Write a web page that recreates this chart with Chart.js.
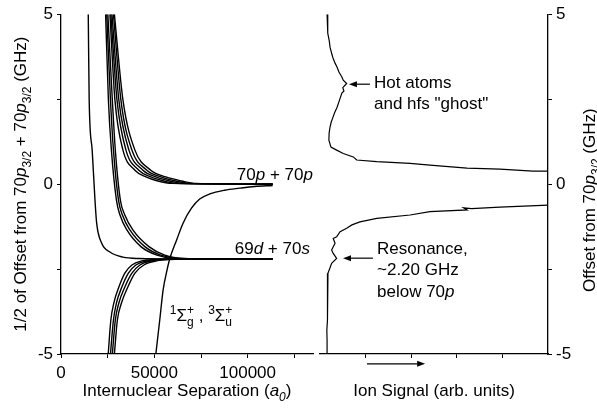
<!DOCTYPE html>
<html>
<head>
<meta charset="utf-8">
<script src="https://cdn.jsdelivr.net/npm/chart.js@4"></script>
<style>
  html, body { margin: 0; padding: 0; background: #fff; }
  #wrap { position: relative; width: 597px; height: 412px; overflow: hidden; }
  #pecChart { position: absolute; left: 0; top: 0; }
  #ionChart { position: absolute; left: 316px; top: 0; }
</style>
</head>
<body>
<div id="wrap">
  <canvas id="pecChart" width="316" height="412"></canvas>
  <canvas id="ionChart" width="281" height="412"></canvas>
</div>
<script>
const FONT = "'Liberation Sans', Arial, Helvetica, sans-serif";
const SIZE = 17;

// ---- left panel: pair potentials, x = separation (a0), y = offset (GHz)
const sepMax = 135000;
const sepTicks = [0, 25000, 50000, 75000, 100000, 125000];
const sepLabels = ['0', '', '50000', '', '100000', ''];
const offsetTicks = [-5, -2.5, 0, 2.5, 5];
const offsetLabels = ['-5', '', '0', '', '5'];

// single repulsive curve into 69d + 70s
const curveA = [
  [14600, 5.0], [15100, 2.47], [16700, 1.0], [18200, -0.47], [19100, -1.15],
  [21800, -1.74], [26200, -2.0], [33200, -2.15], [42300, -2.19], [58300, -2.2], [113400, -2.2]
];

// bundle converging on 70p + 70p from above
const bLevels = [5, 2.47, 1.0, 0.41, 0.21, 0.09, 0.02, 0];
const bSeps = [
  [26200, 28900, 33200, 39600, 45500, 51900, 59400, 113400],
  [26700, 30000, 34800, 41700, 48100, 55100, 62600, 113400],
  [27300, 31000, 36400, 43900, 50800, 58300, 65800, 113400],
  [28100, 32100, 38000, 46000, 53500, 61500, 69000, 113400],
  [28600, 33200, 39600, 48100, 56200, 64700, 72200, 113400]
];

// bundle coming down through 0 onto 69d + 70s
const cLevels = [5, 2.47, 1.0, -0.47, -0.91, -1.35, -1.84, -2.09, -2.19, -2.2, -2.2];
const cSeps = [
  [23900, 25400, 27000, 29700, 31600, 35300, 42800, 51400, 61000, 74300, 113400],
  [24500, 26500, 28100, 30800, 32900, 36900, 44900, 53500, 63600, 76000, 113400],
  [25100, 27500, 29100, 31800, 34200, 38500, 47100, 55600, 66300, 78000, 113400]
];

// bundle rising onto 69d + 70s from below
const dLevels = [-5, -4.0, -3.5, -3.03, -2.62, -2.38, -2.26, -2.22, -2.2, -2.2];
const dSeps = [
  [25300, 26700, 28300, 31000, 34200, 38000, 43300, 50300, 66000, 113400],
  [26500, 28100, 29700, 32600, 36100, 40100, 46000, 52900, 68000, 113400],
  [27500, 29100, 31000, 34200, 38000, 42300, 48700, 55600, 70000, 113400],
  [28600, 30200, 32400, 35800, 39600, 44400, 51300, 58300, 72000, 113400]
];

// attractive 1Σg+, 3Σu+ curve
const curveE = [
  [50800, -5], [52900, -4.0], [54700, -3.12], [56800, -2.53], [58300, -2.19],
  [61900, -1.65], [65400, -1.15], [69900, -0.71], [74300, -0.44], [79700, -0.29],
  [87700, -0.18], [95700, -0.12], [103700, -0.07], [113400, -0.04]
];

// ---- right panel: ion signal (arb.) vs offset (GHz)
const ionTicks = [20, 40, 60, 80];
const ionUpper = [
  [3.1, 5.0], [3.3, 4.75], [3.5, 4.44], [4.1, 4.2], [4.4, 4.03], [5.1, 3.85], [5.7, 3.71],
  [6.6, 3.56], [7.5, 3.44], [8.3, 3.3], [9.6, 3.15], [10.2, 3.06], [11.7, 2.96],
  [10.0, 2.84], [10.5, 2.74], [9.6, 2.68], [8.7, 2.5], [7.5, 2.26], [6.4, 2.1],
  [5.7, 1.97], [4.9, 1.82], [4.4, 1.68], [4.0, 1.5], [3.9, 1.29], [4.8, 1.09],
  [7.3, 1.0], [10.2, 0.9], [14.6, 0.8], [16.1, 0.71], [24.9, 0.66], [39.5, 0.61],
  [48.2, 0.56], [64.5, 0.47], [78.9, 0.44], [93.4, 0.38], [100, 0.38], [130, 0.3]
];
const ionLower = [
  [130, -0.55], [100, -0.62], [78.9, -0.68], [66.5, -0.72], [63.0, -0.70], [64.5, -0.76],
  [48.2, -0.81], [39.5, -0.91], [24.9, -1.01], [17.5, -1.11], [14.0, -1.2], [11.7, -1.3],
  [8.8, -1.4], [7.3, -1.55], [5.8, -1.6], [6.6, -1.74], [5.1, -1.94], [5.8, -2.04],
  [7.3, -2.19], [5.1, -2.33], [4.2, -2.5], [3.5, -2.62], [3.3, -2.97], [3.1, -3.41],
  [3.4, -3.7], [3.3, -4.0], [3.0, -4.3], [3.1, -4.59], [3.1, -5.0]
];

const toPts = (pairs) => pairs.map(([x, y]) => ({ x, y }));
const zipPts = (xs, ys) => xs.map((x, i) => ({ x, y: ys[i] }));

// rich text: parts are {t, i (italic), sub, sup} or {stack: [sup, sub]}
function drawRich(ctx, parts, x, y, size, align) {
  const small = Math.round(size * 0.7);
  const fontFor = (p, sz) => (p.i ? 'italic ' : '') + sz + 'px ' + FONT;
  const widthOf = (p) => {
    if (p.stack) {
      ctx.font = fontFor({}, small);
      return Math.max(ctx.measureText(p.stack[0]).width, ctx.measureText(p.stack[1]).width);
    }
    ctx.font = fontFor(p, p.sub || p.sup ? small : size);
    return ctx.measureText(p.t).width;
  };
  const total = parts.reduce((s, p) => s + widthOf(p), 0);
  let cx = align === 'center' ? x - total / 2 : align === 'right' ? x - total : x;
  ctx.textAlign = 'left';
  ctx.textBaseline = 'alphabetic';
  ctx.fillStyle = '#000';
  for (const p of parts) {
    const w = widthOf(p);
    if (p.stack) {
      ctx.font = fontFor({}, small);
      ctx.fillText(p.stack[0], cx, y - size * 0.42);
      ctx.fillText(p.stack[1], cx, y + size * 0.3);
    } else {
      const dy = p.sub ? size * 0.28 : p.sup ? -size * 0.42 : 0;
      ctx.font = fontFor(p, p.sub || p.sup ? small : size);
      ctx.fillText(p.t, cx, y + dy);
    }
    cx += w;
  }
}

function arrow(ctx, x1, y1, x2, y2) {
  const ang = Math.atan2(y2 - y1, x2 - x1);
  const hl = 8, hw = 3;
  ctx.strokeStyle = '#000';
  ctx.lineWidth = 1.2;
  ctx.beginPath();
  ctx.moveTo(x1, y1);
  ctx.lineTo(x2 - hl * Math.cos(ang), y2 - hl * Math.sin(ang));
  ctx.stroke();
  ctx.beginPath();
  ctx.moveTo(x2, y2);
  ctx.lineTo(x2 - hl * Math.cos(ang) - hw * Math.sin(ang), y2 - hl * Math.sin(ang) + hw * Math.cos(ang));
  ctx.lineTo(x2 - hl * Math.cos(ang) + hw * Math.sin(ang), y2 - hl * Math.sin(ang) - hw * Math.cos(ang));
  ctx.closePath();
  ctx.fill();
}

// notes are placed in data coordinates; titles relative to the chart area
const notesPlugin = {
  id: 'notes',
  afterDraw(chart, args, opts) {
    const { ctx, chartArea: a, scales } = chart;
    const px = (v) => scales.x.getPixelForValue(v);
    const py = (v) => scales.y.getPixelForValue(v);
    ctx.save();
    (opts.texts || []).forEach((n) => drawRich(ctx, n.parts, px(n.x), py(n.y), SIZE, 'left'));
    (opts.arrows || []).forEach((r) => arrow(ctx, px(r[0]), py(r[1]), px(r[2]), py(r[3])));
    if (opts.xTitle) drawRich(ctx, opts.xTitle, (a.left + a.right) / 2, a.bottom + 42, SIZE, 'center');
    if (opts.yTitle) {
      ctx.save();
      ctx.translate(opts.yTitleX(a), (a.top + a.bottom) / 2 + (opts.yTitleShift || 0));
      ctx.rotate(-Math.PI / 2);
      drawRich(ctx, opts.yTitle, 0, 0, SIZE, 'center');
      ctx.restore();
    }
    ctx.restore();
  }
};

const axisStyle = {
  grid: { display: true, drawOnChartArea: false, drawTicks: true, tickLength: 4, color: '#000', lineWidth: 1 },
  border: { display: true, color: '#000', width: 1.3 }
};

const curveDs = (data) => ({
  data, borderColor: '#000', borderWidth: 1.4, pointRadius: 0,
  cubicInterpolationMode: 'monotone', fill: false
});

const pecDatasets = [
  curveDs(toPts(curveA)),
  ...bSeps.map((xs) => curveDs(zipPts(xs, bLevels))),
  ...cSeps.map((xs) => curveDs(zipPts(xs, cLevels))),
  ...dSeps.map((xs) => curveDs(zipPts(xs, dLevels))),
  curveDs(toPts(curveE))
];

new Chart(document.getElementById('pecChart'), {
  type: 'line',
  data: { datasets: pecDatasets },
  options: {
    responsive: false,
    animation: false,
    events: [],
    layout: { padding: { left: 0, top: 14, right: 3, bottom: 0 } },
    plugins: {
      legend: { display: false },
      tooltip: { enabled: false },
      notes: {
        texts: [
          { x: 94200, y: 0.12, parts: [{ t: '70' }, { t: 'p', i: true }, { t: ' + 70' }, { t: 'p', i: true }] },
          { x: 93100, y: -2.06, parts: [{ t: '69' }, { t: 'd', i: true }, { t: ' + 70' }, { t: 's', i: true }] },
          { x: 58300, y: -4.03, parts: [
            { t: '1', sup: true }, { t: 'Σ' }, { stack: ['+', 'g'] }, { t: ' , ' },
            { t: '3', sup: true }, { t: 'Σ' }, { stack: ['+', 'u'] }
          ] }
        ],
        xTitle: [{ t: 'Internuclear Separation (' }, { t: 'a', i: true }, { t: '0', i: true, sub: true }, { t: ')' }],
        yTitle: [
          { t: '1/2 of Offset from 70' }, { t: 'p', i: true }, { t: '3/2', sub: true },
          { t: ' + 70' }, { t: 'p', i: true }, { t: '3/2', sub: true }, { t: ' (GHz)' }
        ],
        yTitleX: (a) => a.left - 35
      }
    },
    scales: {
      x: {
        type: 'linear', min: 0, max: sepMax,
        afterBuildTicks: (s) => { s.ticks = sepTicks.map((v) => ({ value: v })); },
        afterFit: (s) => { s.height = 58; },
        ticks: {
          autoSkip: false, maxRotation: 0, padding: 5, color: '#000',
          font: { family: FONT, size: SIZE },
          callback: (v) => sepLabels[sepTicks.indexOf(v)] ?? ''
        },
        ...axisStyle
      },
      y: {
        type: 'linear', min: -5, max: 5,
        afterBuildTicks: (s) => { s.ticks = offsetTicks.map((v) => ({ value: v })); },
        afterFit: (s) => { s.width = 61; },
        ticks: {
          autoSkip: false, padding: 4, color: '#000',
          font: { family: FONT, size: SIZE },
          callback: (v) => offsetLabels[offsetTicks.indexOf(v)] ?? ''
        },
        ...axisStyle
      }
    }
  },
  plugins: [notesPlugin]
});

new Chart(document.getElementById('ionChart'), {
  type: 'line',
  data: {
    datasets: [{
      data: toPts([...ionUpper, ...ionLower]),
      borderColor: '#000', borderWidth: 1.2, pointRadius: 0, tension: 0, fill: false
    }]
  },
  options: {
    responsive: false,
    animation: false,
    events: [],
    layout: { padding: { left: 4, top: 14, right: 0, bottom: 0 } },
    plugins: {
      legend: { display: false },
      tooltip: { enabled: false },
      notes: {
        texts: [
          { x: 23.7, y: 2.82, parts: [{ t: 'Hot atoms' }] },
          { x: 23.7, y: 2.21, parts: [{ t: 'and hfs "ghost"' }] },
          { x: 25.0, y: -2.06, parts: [{ t: 'Resonance,' }] },
          { x: 25.0, y: -2.68, parts: [{ t: '~2.20 GHz' }] },
          { x: 25.0, y: -3.32, parts: [{ t: 'below 70' }, { t: 'p', i: true }] }
        ],
        arrows: [
          [21.9, 2.94, 12.7, 2.94],
          [23.2, -2.18, 10.1, -2.18],
          [20.6, -5.29, 46.1, -5.29]
        ],
        xTitle: [{ t: 'Ion Signal (arb. units)' }],
        yTitle: [{ t: 'Offset from 70' }, { t: 'p', i: true }, { t: '3/2', sub: true }, { t: ' (GHz)' }],
        yTitleX: (a) => a.right + 47,
        yTitleShift: 16
      }
    },
    scales: {
      x: {
        type: 'linear', min: 0, max: 100,
        afterBuildTicks: (s) => { s.ticks = ionTicks.map((v) => ({ value: v })); },
        afterFit: (s) => { s.height = 58; },
        ticks: { padding: 5, font: { family: FONT, size: SIZE }, callback: () => '' },
        ...axisStyle
      },
      y: {
        type: 'linear', position: 'right', min: -5, max: 5,
        afterBuildTicks: (s) => { s.ticks = offsetTicks.map((v) => ({ value: v })); },
        afterFit: (s) => { s.width = 49; },
        ticks: {
          autoSkip: false, padding: 4, color: '#000',
          font: { family: FONT, size: SIZE },
          callback: (v) => offsetLabels[offsetTicks.indexOf(v)] ?? ''
        },
        ...axisStyle
      }
    }
  },
  plugins: [notesPlugin]
});
</script>
</body>
</html>
